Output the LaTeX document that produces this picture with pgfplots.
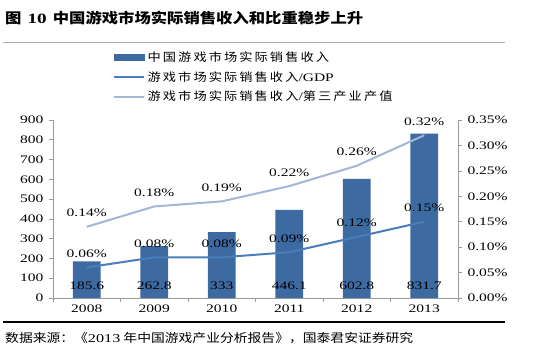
\documentclass[border=0pt]{standalone}
\usepackage{fontspec}
\setmainfont{Liberation Serif}[FakeStretch=1.35]
\newfontfamily\cjkfont{Noto Sans CJK SC}[FakeStretch=1.15]
\newfontfamily\cjkls{Noto Sans CJK SC}[FakeStretch=1.15,LetterSpace=18]
\usepackage{pgfplots}
\pgfplotsset{compat=1.18}
\definecolor{barblue}{HTML}{3D6AA1}
\definecolor{gdpblue}{HTML}{4A7EBB}
\definecolor{terblue}{HTML}{A3B6D6}
\definecolor{axgray}{HTML}{9A9A9A}
\begin{document}
\begin{tikzpicture}[x=1pt,y=1pt]
\useasboundingbox (0,0) rectangle (542,355);
\fill[white] (0,0) rectangle (542,355);
\node[anchor=base west, inner sep=0pt] at (5,331) {\fontsize{14.2}{16}\selectfont\cjkfont\bfseries 图\, {\rmfamily\bfseries 10}\, 中国游戏市场实际销售收入和比重稳步上升};
\draw[gray!60, line width=0.6pt] (3,313) -- (505,313);
\draw[black, line width=1.1pt] (3,33) -- (505,33);
\node[anchor=base west, inner sep=0pt] at (5,12) {\fontsize{12}{13}\selectfont\cjkfont 数据来源：《{\rmfamily 2013} 年中国游戏产业分析报告》，国泰君安证券研究};

\begin{axis}[
  at={(53pt,57pt)}, anchor=south west, scale only axis,
  width=405pt, height=178pt,
  xmin=-0.5, xmax=5.5, ymin=0, ymax=900,
  axis x line*=bottom, axis y line*=left,
  axis line style={axgray, line width=0.6pt},
  xtick={0,...,5}, xticklabels={2008,2009,2010,2011,2012,2013},
  major x tick style={draw=none},
  minor xtick={-0.5,0.5,1.5,2.5,3.5,4.5,5.5},
  minor x tick style={axgray, line width=0.6pt},
  ytick={0,100,...,900},
  y tick style={axgray, line width=0.6pt},
  tick align=outside, major tick length=4pt, minor tick length=4pt,
  ticklabel style={font=\fontsize{11.5}{12}\selectfont},
  yticklabel style={xshift=-2pt},
  xticklabel style={yshift=1pt},
  /pgf/number format/assume math mode=true,
  clip=false,
]
\addplot[ybar, bar width=0.41, fill=barblue, draw=none] coordinates {(0,185.6) (1,262.8) (2,333) (3,446.1) (4,602.8) (5,831.7)};
\addplot[draw=none, mark=none, nodes near coords, point meta=explicit symbolic,
  nodes near coords style={anchor=base, inner sep=0pt, yshift=8pt, font=\fontsize{11.5}{12}\selectfont, text=black}]
  coordinates {(0,0)[185.6] (1,0)[262.8] (2,0)[333] (3,0)[446.1] (4,0)[602.8] (5,0)[831.7]};
\end{axis}

\begin{axis}[
  at={(53pt,57pt)}, anchor=south west, scale only axis,
  width=405pt, height=178pt,
  xmin=-0.5, xmax=5.5, ymin=0, ymax=0.35,
  axis x line=none, axis y line*=right,
  axis line style={axgray, line width=0.6pt},
  ytick={0,0.05,0.1,0.15,0.2,0.25,0.3,0.35},
  yticklabel={\pgfmathprintnumber[fixed,fixed zerofill,precision=2]{\tick}\%},
  y tick style={axgray, line width=0.6pt},
  tick align=outside, major tick length=4pt,
  ticklabel style={font=\fontsize{11.5}{12}\selectfont},
  yticklabel style={xshift=2pt},
  /pgf/number format/assume math mode=true,
  clip=false,
  legend style={at={(0.148,1.40)}, anchor=north west, draw=none, fill=none,
    font=\fontsize{11.5}{13}\selectfont, row sep=3.5pt, inner sep=0pt,
    nodes={inner sep=2.5pt}},
  legend cell align=left,
]
\addlegendimage{legend image code/.code={\fill[barblue] (0pt,-3pt) rectangle (30pt,3pt);}}
\addlegendentry{\cjkls 中国游戏市场实际销售收入}
\addlegendimage{legend image code/.code={\draw[gdpblue,line width=2pt] (0pt,0pt) -- (30pt,0pt);}}
\addlegendentry{{\cjkls 游戏市场实际销售收入}/GDP}
\addlegendimage{legend image code/.code={\draw[terblue,line width=2pt] (0pt,0pt) -- (30pt,0pt);}}
\addlegendentry{{\cjkls 游戏市场实际销售收入}/{\cjkls 第三产业产值}}
\addplot[forget plot, gdpblue, line width=2pt, mark=none, point meta=y,
  nodes near coords={\pgfmathprintnumber[fixed,fixed zerofill,precision=2]{\pgfplotspointmeta}\%},
  nodes near coords style={anchor=base, inner sep=0pt, yshift=10pt, font=\fontsize{11.5}{12}\selectfont, text=black}]
  coordinates {(0,0.06) (1,0.08) (2,0.08) (3,0.09) (4,0.12) (5,0.15)};
\addplot[forget plot, terblue, line width=2pt, mark=none, point meta=y,
  nodes near coords={\pgfmathprintnumber[fixed,fixed zerofill,precision=2]{\pgfplotspointmeta}\%},
  nodes near coords style={anchor=base, inner sep=0pt, yshift=10pt, font=\fontsize{11.5}{12}\selectfont, text=black}]
  coordinates {(0,0.14) (1,0.18) (2,0.19) (3,0.22) (4,0.26) (5,0.32)};
\end{axis}
\end{tikzpicture}
\end{document}
